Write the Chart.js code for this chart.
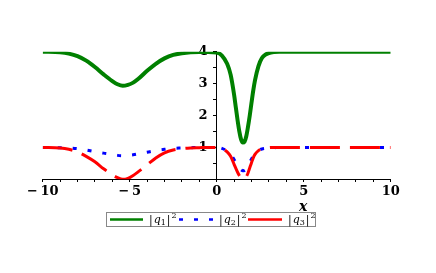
<!DOCTYPE html>
<html>
<head>
<meta charset="utf-8">
<script src="https://cdn.jsdelivr.net/npm/chart.js@4/dist/chart.umd.min.js"></script>
<style>
  html, body { margin: 0; background: #fff; }
  #wrap { width: 436px; height: 273px; position: relative; }
</style>
</head>
<body>
<div id="wrap"><canvas id="plot"></canvas></div>
<script>
// valeurs
const xs = [-10, -9, -8.5, -8, -7.5, -7, -6.5, -6, -5.7, -5.4, -5.1, -4.8, -4.5, -4, -3.5, -3, -2.5, -2, -1.5, -1, -0.5,
  0, 0.3, 0.6, 0.8, 1.0, 1.1, 1.2, 1.3, 1.4, 1.5, 1.6, 1.7, 1.8, 1.9, 2.0, 2.1, 2.2, 2.4, 2.6, 2.8, 3.0, 3.3, 3.6,
  4, 5, 6, 7, 8, 9, 10];
const q1 = [4.0, 3.98, 3.94, 3.86, 3.72, 3.52, 3.29, 3.08, 2.98, 2.93, 2.96, 3.03, 3.15, 3.4, 3.62, 3.79, 3.9, 3.95, 3.98, 3.99, 3.99,
  3.97, 3.88, 3.62, 3.28, 2.65, 2.25, 1.85, 1.5, 1.25, 1.15, 1.18, 1.35, 1.65, 2.0, 2.4, 2.78, 3.1, 3.55, 3.8, 3.91, 3.96, 3.99, 4.0,
  4.0, 4.0, 4.0, 4.0, 4.0, 4.0, 4.0];
const q2 = [1.0, 0.99, 0.98, 0.96, 0.92, 0.87, 0.82, 0.78, 0.75, 0.74, 0.75, 0.77, 0.8, 0.85, 0.9, 0.94, 0.97, 0.98, 0.99, 1.0, 1.0,
  1.0, 0.97, 0.88, 0.78, 0.62, 0.52, 0.43, 0.35, 0.3, 0.27, 0.28, 0.33, 0.43, 0.54, 0.64, 0.73, 0.8, 0.9, 0.95, 0.97, 0.98, 0.99, 1.0,
  1.0, 1.0, 1.0, 1.0, 1.0, 1.0, 1.0];
const q3 = [1.0, 0.98, 0.94, 0.86, 0.72, 0.55, 0.33, 0.14, 0.05, 0.0, 0.03, 0.12, 0.24, 0.45, 0.67, 0.83, 0.92, 0.96, 0.98, 0.99, 1.0,
  1.0, 0.96, 0.86, 0.72, 0.47, 0.34, 0.22, 0.12, 0.05, 0.01, 0.02, 0.08, 0.2, 0.36, 0.52, 0.67, 0.78, 0.9, 0.95, 0.97, 0.99, 1.0, 1.0,
  1.0, 1.0, 1.0, 1.0, 1.0, 1.0, 1.0];
const xTicks = [-10, -5, 0, 5, 10];
const yTicks = [1, 2, 3, 4];
const subscripts = ['1', '2', '3'];
const xTitle = 'x';

const tickFont = { family: 'DejaVu Serif', weight: 'bold', size: 13 };

function pts(ys) {
  return xs.map((x, i) => ({ x: x, y: ys[i] }));
}

// |q_n|^2 écrit à la main sur le canvas
function drawModulus(ctx, x, y, sub) {
  ctx.fillStyle = '#000';
  ctx.textBaseline = 'alphabetic';
  ctx.font = '11px "DejaVu Serif"';
  ctx.fillText('|', x, y);
  let cx = x + ctx.measureText('|').width + 1;
  ctx.font = 'italic 11px "DejaVu Serif"';
  ctx.fillText('q', cx, y);
  cx += ctx.measureText('q').width;
  ctx.font = '8px "DejaVu Serif"';
  ctx.fillText(sub, cx, y + 2);
  cx += ctx.measureText(sub).width + 1;
  ctx.font = '11px "DejaVu Serif"';
  ctx.fillText('|', cx, y);
  cx += ctx.measureText('|').width + 1;
  ctx.font = '8px "DejaVu Serif"';
  ctx.fillText('2', cx, y - 5);
}

const extras = {
  id: 'extras',
  afterDraw(chart) {
    const ctx = chart.ctx;
    ctx.save();
    // titre de l'axe x
    ctx.fillStyle = '#000';
    ctx.font = 'italic bold 14px "DejaVu Serif"';
    ctx.textAlign = 'left';
    ctx.textBaseline = 'alphabetic';
    ctx.fillText(xTitle, 299, 211);

    // légende encadrée
    ctx.strokeStyle = '#888';
    ctx.lineWidth = 1;
    ctx.strokeRect(106.5, 212.5, 209, 14);
    const items = [
      { x0: 110, x1: 143, tx: 149 },
      { x0: 179, x1: 214, tx: 219 },
      { x0: 248, x1: 282, tx: 288 }
    ];
    chart.data.datasets.forEach((ds, i) => {
      const it = items[i];
      ctx.save();
      ctx.strokeStyle = ds.borderColor;
      ctx.lineWidth = 2.5;
      ctx.setLineDash(i === 1 ? [4, 11] : []);
      ctx.beginPath();
      ctx.moveTo(it.x0, 219.5);
      ctx.lineTo(it.x1, 219.5);
      ctx.stroke();
      ctx.restore();
      drawModulus(ctx, it.tx, 223, subscripts[i]);
    });
    ctx.restore();
  }
};

new Chart(document.getElementById('plot'), {
  type: 'scatter',
  data: {
    datasets: [
      {
        label: '|q₁|²',
        data: pts(q1),
        showLine: true,
        borderColor: '#008000',
        borderWidth: 4,
        pointRadius: 0,
        cubicInterpolationMode: 'monotone',
        order: 2
      },
      {
        label: '|q₂|²',
        data: pts(q2),
        showLine: true,
        borderColor: '#0000ff',
        borderWidth: 3,
        borderDash: [4, 11],
        borderCapStyle: 'butt',
        pointRadius: 0,
        cubicInterpolationMode: 'monotone',
        order: 1
      },
      {
        label: '|q₃|²',
        data: pts(q3),
        showLine: true,
        borderColor: '#ff0000',
        borderWidth: 3,
        borderDash: [30, 10],
        borderCapStyle: 'butt',
        pointRadius: 0,
        cubicInterpolationMode: 'monotone',
        order: 0
      }
    ]
  },
  options: {
    responsive: true,
    maintainAspectRatio: false,
    animation: false,
    layout: { padding: { left: 42.7, right: 45.3, top: 51.7, bottom: 93.7 } },
    plugins: {
      legend: { display: false },
      tooltip: { enabled: false }
    },
    scales: {
      x: {
        type: 'linear',
        min: -10,
        max: 10,
        position: { y: 0 },
        border: { display: true, color: '#000', width: 1 },
        grid: { drawOnChartArea: false, drawTicks: true, tickLength: 2, color: '#000' },
        ticks: {
          stepSize: 1,
          autoSkip: false,
          maxRotation: 0,
          padding: 3,
          color: '#000',
          font: tickFont,
          callback: v => xTicks.includes(v) ? (v < 0 ? '−\u2009' + Math.abs(v) : String(v)) : ''
        }
      },
      y: {
        type: 'linear',
        min: 0,
        max: 4,
        z: 1,
        position: { x: 0 },
        border: { display: true, color: '#000', width: 1 },
        grid: { drawOnChartArea: false, drawTicks: true, tickLength: 3, color: '#000' },
        ticks: {
          stepSize: 0.5,
          autoSkip: false,
          color: '#000',
          font: tickFont,
          // le label se colle à l'axe quand il est centré, on garde un peu d'espace
          callback: v => yTicks.includes(v) ? String(v) + '\u2002\u2009' : ''
        }
      }
    }
  },
  plugins: [extras]
});
</script>
</body>
</html>
